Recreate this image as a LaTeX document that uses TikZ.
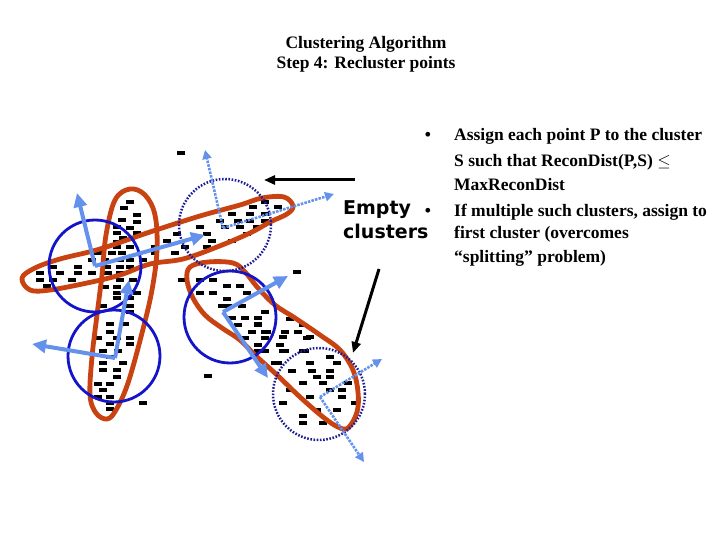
\documentclass[tikz,border=0pt]{standalone}
\usepackage{fontspec}
\setmainfont{Liberation Serif}
\newfontfamily\labelfont{DejaVu Sans}
\usetikzlibrary{arrows.meta, positioning}
\definecolor{rust}{RGB}{200,66,18}
\definecolor{ringblue}{RGB}{20,20,200}
\definecolor{navy}{RGB}{30,30,150}
\definecolor{axisblue}{RGB}{100,145,235}

\begin{document}
\begin{tikzpicture}[
    x=1pt, y=-1pt,
    blob/.style={draw=rust, line width=4.8pt, line join=round},
    ring/.style={circle, draw=ringblue, line width=2.8pt, minimum size=92pt, inner sep=0pt},
    emptyring/.style={circle, draw=navy, line width=2.5pt, dash pattern=on 1.6pt off 1.6pt, minimum size=92pt, inner sep=0pt},
    axis/.style={-{Triangle[length=14pt, width=13pt]}, line width=4pt, axisblue},
    emptyaxis/.style={-{Triangle[length=9pt, width=9pt]}, line width=2.6pt, axisblue, dash pattern=on 2.5pt off 1.2pt},
    pointer/.style={-{Triangle[length=11pt, width=9pt]}, line width=3pt, black},
    txt/.style={font=\fontsize{17.5}{20}\selectfont\bfseries, inner sep=0pt},
]
\useasboundingbox (0,0) rectangle (720,540);

% title
\node[txt, align=center] (title) at (366,54) {Clustering Algorithm\\Step 4: Recluster points};

% data points
\foreach \px/\py in {
  130/202,124/208,137/215,122/220,137/222,117/227,130/228,117/233,137/233,123/238,
  117/242,130/247,117/247,155/247,98/253,112/253,122/253,92/260,105/260,120/260,
  130/260,143/260,53/267,78/267,107/267,120/267,130/267,40/273,60/273,78/273,
  92/273,108/273,120/273,40/280,53/280,72/280,120/280,133/280,47/286,105/287,
  117/287,130/292,117/293,137/293,117/298,130/298,103/306,130/306,130/312,110/324,
  125/324,110/332,98/338,117/338,130/338,110/344,130/344,103/351,118/351,110/357,
  103/363,123/363,103/370,117/370,117/377,98/384,110/384,103/390,98/397,110/397,
  110/403,143/403,110/409,
  265/202,253/207,278/207,232/214,250/214,265/214,220/221,238/221,250/221,265/221,
  200/227,225/227,240/227,257/227,177/234,207/234,247/234,167/241,212/241,232/241,
  185/247,207/247,155/253,175/253,181/153,
  182/280,200/280,213/280,227/286,240/286,200/293,213/293,247/293,227/299,222/306,
  228/306,242/306,265/312,232/318,245/318,258/318,290/319,238/325,258/325,303/325,
  252/332,265/332,285/332,298/332,245/338,265/338,307/338,258/345,280/345,258/351,
  265/351,285/351,305/351,275/363,297/272,208/376,
  258/324,267/332,310/337,283/337,283/351,303/351,330/357,278/363,310/363,337/363,
  292/371,312/371,330/371,317/377,330/377,303/383,323/383,348/383,290/390,330/390,
  342/390,310/397,342/397,283/403,355/403,317/410,337/410,303/416,303/423,323/423}
  \fill (\px-3.7,\py-1.7) rectangle ++(7.4,3.4);

% clusters found so far
\draw[blob] plot[smooth cycle, tension=0.6] coordinates {
  (130,189) (145,195) (155,215) (157,250) (152,290) (142,333) (128,383) (116,410)
  (107,419) (96,413) (90,395) (92,357) (97,315) (102,275) (106,235) (115,200)};
\draw[blob] plot[smooth cycle, tension=0.6] coordinates {
  (22,278) (35,268) (60,259) (100,249) (150,232) (200,216) (240,205) (262,198)
  (284,197) (293,206) (287,214) (270,222) (250,233) (217,247) (183,259) (150,264)
  (120,275) (87,283) (50,290) (30,290)};
\draw[blob] plot[smooth cycle, tension=0.6] coordinates {
  (190,267) (208,262) (233,263) (245,272) (258,288) (275,305) (295,318) (320,335)
  (340,350) (353,370) (358,392) (357,412) (348,428) (338,427) (323,417) (300,397)
  (277,375) (255,355) (240,340) (222,328) (205,315) (193,298) (187,280)};

% spheres
\node[ring] (ra) at (95,266) {};
\node[ring] (rb) at (114,356) {};
\node[ring] (rc) at (230,317) {};
\node[emptyring] (rd) at (225,225) {};
\node[emptyring] (re) at (319,394) {};

% principal directions
\coordinate (oa) at (95,266);
\coordinate (ob) at (115,358);
\coordinate (oc) at (223,312);
\coordinate (od) at (223,228);
\coordinate (oe) at (320,397);
\draw[axis] (oa) -- (77,193);
\draw[axis] (oa) -- (205,235);
\draw[axis] (ob) -- (129,280);
\draw[axis] (ob) -- (32,344);
\draw[axis] (oc) -- (288,276);
\draw[axis] (oc) -- (268,378);
\draw[emptyaxis] (od) -- (205,150);
\draw[emptyaxis] (od) -- (334,194);
\draw[emptyaxis] (oe) -- (382,359);
\draw[emptyaxis] (oe) -- (364,462);

% empty clusters
\node[font=\labelfont\bfseries\fontsize{19}{24}\selectfont, align=left, inner sep=0pt, anchor=north west] (empty) at (343,200) {Empty\\clusters};
\coordinate (p1) at (355,180);
\coordinate (q1) at (264,180);
\coordinate (p2) at (379,269);
\coordinate (q2) at (353,353);
\draw[pointer] (p1) -- (q1);
\draw[pointer] (p2) -- (q2);

% rules
\node[txt, anchor=base] (b1) at (428,141) {\textbullet};
\node[txt, anchor=base west] (l1) at (454,141) {Assign each point P to the cluster};
\node[txt, anchor=base west] (l2) at (454,167) {S such that ReconDist(P,S) $\leq$};
\node[txt, anchor=base west] (l3) at (454,191) {MaxReconDist};
\node[txt, anchor=base] (b2) at (428,216) {\textbullet};
\node[txt, anchor=base west] (l4) at (454,216) {If multiple such clusters, assign to};
\node[txt, anchor=base west] (l5) at (454,239) {first cluster (overcomes};
\node[txt, anchor=base west] (l6) at (454,262) {``splitting'' problem)};

\end{tikzpicture}
\end{document}
